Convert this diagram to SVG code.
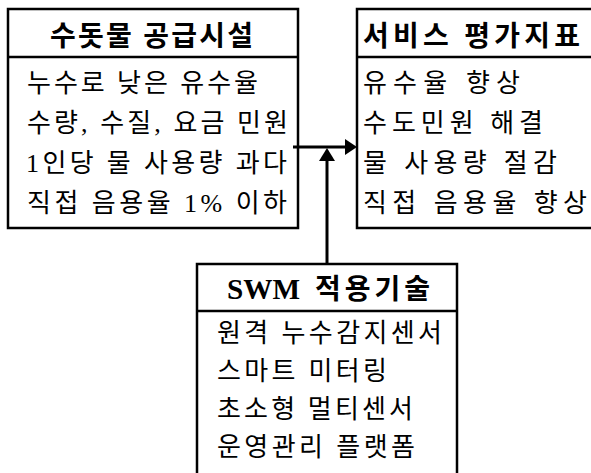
<svg xmlns="http://www.w3.org/2000/svg" width="591" height="473" viewBox="0 0 591 473">
<style>
.box{fill:#fff;stroke:#000;stroke-width:2.5}
.div{stroke:#000;stroke-width:2.5}
text{font-family:"Liberation Serif","Noto Sans CJK KR",serif;fill:#000}
.h{font-size:28px;font-weight:bold}
.lat{font-size:30px;font-weight:bold}
.b{font-size:26px}
.con{stroke:#000;stroke-width:3;fill:none}
</style>
<rect width="591" height="473" fill="#fff"/>
<g id="supply">
<rect class="box" x="8" y="9" width="290" height="219"/>
<line class="div" x1="8" y1="57" x2="298" y2="57"/>
<text class="h" x="50" y="46" textLength="203" lengthAdjust="spacing">수돗물 공급시설</text>
<text class="b" x="27" y="92" textLength="231" lengthAdjust="spacing">누수로 낮은 유수율</text>
<text class="b" x="27" y="132" textLength="261" lengthAdjust="spacing">수량, 수질, 요금 민원</text>
<text class="b" x="26" y="172" textLength="261" lengthAdjust="spacing">1인당 물 사용량 과다</text>
<text class="b" x="27" y="212" textLength="260" lengthAdjust="spacing">직접 음용율 1% 이하</text>
</g>
<g id="service">
<rect class="box" x="357" y="9" width="240" height="219"/>
<line class="div" x1="357" y1="57" x2="597" y2="57"/>
<text class="h" x="363" y="46" textLength="217" lengthAdjust="spacing">서비스 평가지표</text>
<text class="b" x="363" y="92" textLength="157" lengthAdjust="spacing">유수율 향상</text>
<text class="b" x="363" y="132" textLength="180" lengthAdjust="spacing">수도민원 해결</text>
<text class="b" x="363" y="172" textLength="194" lengthAdjust="spacing">물 사용량 절감</text>
<text class="b" x="363" y="212" textLength="224" lengthAdjust="spacing">직접 음용율 향상</text>
</g>
<g id="swm">
<rect class="box" x="197" y="264" width="260" height="220"/>
<line class="div" x1="197" y1="311" x2="457" y2="311"/>
<text class="lat" x="227" y="299" textLength="73" lengthAdjust="spacingAndGlyphs">SWM</text>
<text class="h" x="315" y="299" textLength="115" lengthAdjust="spacing">적용기술</text>
<text class="b" x="217" y="342" textLength="225" lengthAdjust="spacing">원격 누수감지센서</text>
<text class="b" x="217" y="380" textLength="170" lengthAdjust="spacing">스마트 미터링</text>
<text class="b" x="217" y="418" textLength="196" lengthAdjust="spacing">초소형 멀티센서</text>
<text class="b" x="217" y="456" textLength="198" lengthAdjust="spacing">운영관리 플랫폼</text>
</g>
<g id="connectors">
<line class="con" x1="293" y1="147" x2="346" y2="147"/>
<polygon points="345,139 357,147 345,155" fill="#000"/>
<line class="con" x1="327" y1="264" x2="327" y2="159"/>
<polygon points="319,161 327,148 335,161" fill="#000"/>
</g>
</svg>
